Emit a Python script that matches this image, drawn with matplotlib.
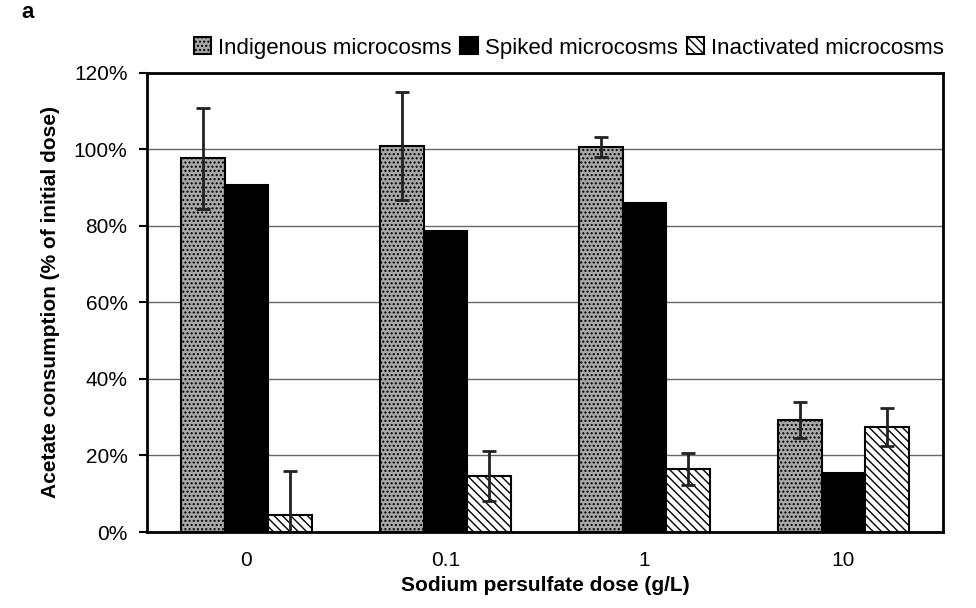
import numpy as np
import matplotlib.pyplot as plt
from matplotlib.ticker import PercentFormatter

plt.rcParams['font.family'] = ['Liberation Sans', 'DejaVu Sans']

doses = ['0', '0.1', '1', '10']
indigenous = [97.7, 100.9, 100.6, 29.3]
indigenous_err = [13.2, 14.2, 2.7, 4.8]
spiked = [90.7, 78.7, 86.0, 15.4]
inactivated = [4.4, 14.6, 16.5, 27.5]
inactivated_err = [11.5, 6.6, 4.2, 4.9]

fig = plt.figure(figsize=(9.76, 6.08), dpi=100)
ax = fig.add_axes([0.1506, 0.125, 0.8155, 0.755])

x = np.arange(len(doses))
w = 0.22
err_kw = dict(ecolor='#222222', elinewidth=2, capsize=5, capthick=2)

ax.bar(x - w, indigenous, w, yerr=indigenous_err, color='#a8a8a8', edgecolor='black',
       hatch='....', linewidth=1.5, error_kw=err_kw, label='Indigenous microcosms', zorder=3)
ax.bar(x, spiked, w, color='black', edgecolor='black', linewidth=1.5,
       label='Spiked microcosms', zorder=3)
ax.bar(x + w, inactivated, w, yerr=inactivated_err, color='white', edgecolor='black',
       hatch='\\\\\\\\', linewidth=1.5, error_kw=err_kw, label='Inactivated microcosms', zorder=3)

ax.set_xlim(-0.5, len(doses) - 0.5)
ax.set_ylim(0, 120)
ax.set_yticks(np.arange(0, 121, 20))
ax.yaxis.set_major_formatter(PercentFormatter(decimals=0))
ax.set_xticks(x)
ax.set_xticklabels(doses)
ax.tick_params(axis='x', length=0, pad=14, labelsize=15)
ax.tick_params(axis='y', length=6, width=1.5, labelsize=15, pad=8)
ax.grid(axis='y', color='#666666', linewidth=1.0, zorder=0)
for s in ax.spines.values():
    s.set_linewidth(2)

ax.set_xlabel('Sodium persulfate dose (g/L)', fontsize=15, fontweight='bold', labelpad=4)
ax.set_ylabel('Acetate consumption (% of initial dose)', fontsize=15, fontweight='bold', labelpad=10)

ax.legend(loc='lower center', bbox_to_anchor=(0.53, 1.0), ncol=3, frameon=False,
          fontsize=16, handlelength=0.8, handleheight=0.8, handletextpad=0.3,
          columnspacing=0.4, borderaxespad=0.25)

fig.text(0.022, 0.98, 'a', fontsize=16, fontweight='bold', va='center')

fig.savefig('out.png', dpi=100)
